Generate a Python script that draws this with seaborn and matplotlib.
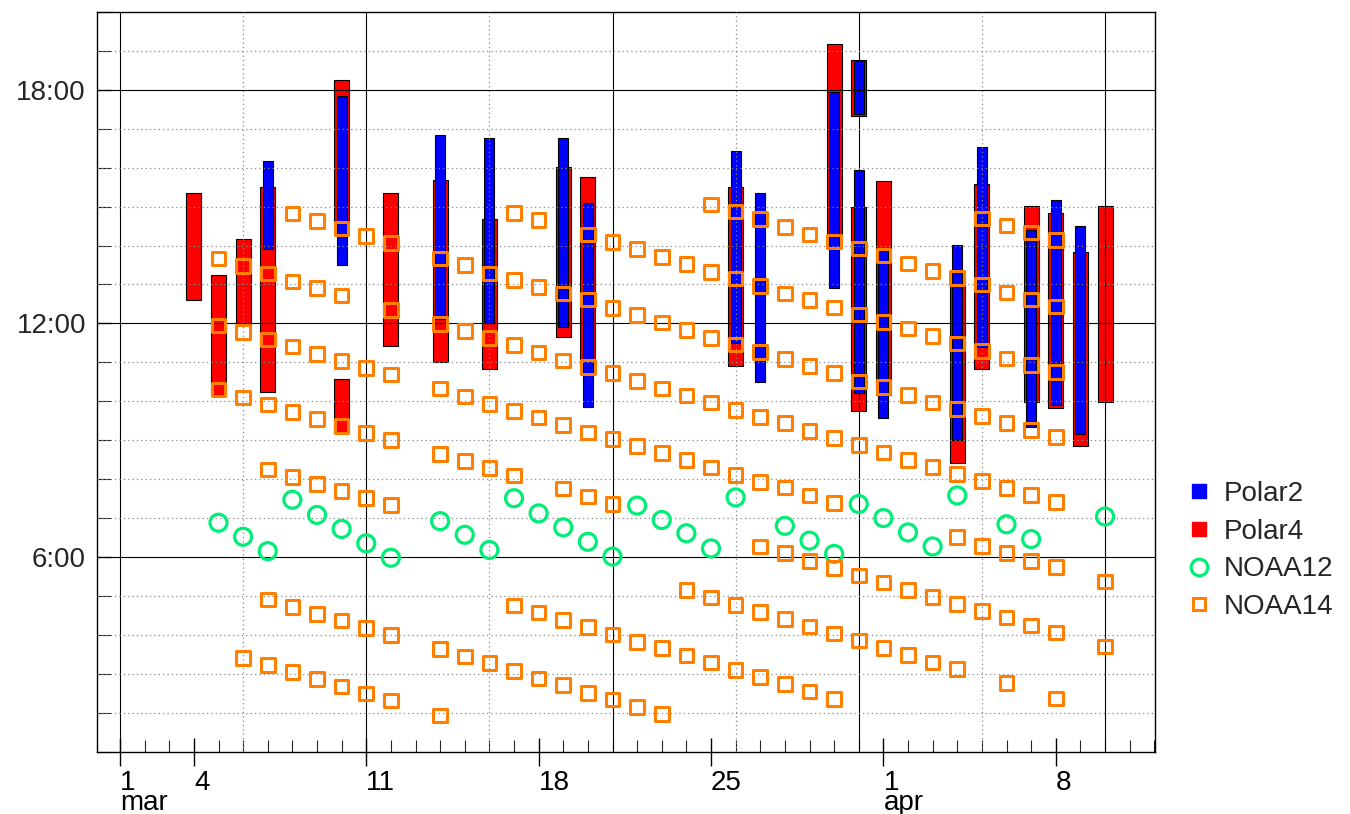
import numpy as np
import pandas as pd
import matplotlib
matplotlib.use("Agg")
import matplotlib.pyplot as plt
import seaborn as sns
from matplotlib.lines import Line2D

# ---------------- data (x = day counted from 1 March; Apr 1 = 32) ----------------
polar2_day = [7, 10, 14, 16, 19, 20, 26, 27, 30, 31, 31, 32, 35, 36, 38, 39, 40]
polar2_start = [13.92, 13.50, 12.11, 12.00, 11.92, 9.84, 11.50, 10.50, 12.90, 17.37,
                10.22, 9.58, 9.01, 11.40, 9.35, 9.91, 9.16]
polar2_end = [16.18, 17.84, 16.84, 16.76, 16.76, 15.09, 16.42, 15.34, 17.94, 18.74,
              15.93, 13.89, 14.02, 16.52, 14.39, 15.17, 14.50]

polar4_day = [4, 5, 6, 7, 10, 10, 12, 14, 16, 19, 20, 26, 30, 31, 31, 32, 35, 36, 38, 39, 40, 41]
polar4_start = [12.59, 10.14, 11.95, 10.25, 14.55, 9.18, 11.42, 11.00, 10.83, 11.66, 10.89,
                10.91, 14.23, 17.34, 9.75, 10.16, 8.41, 10.82, 9.99, 9.82, 8.84, 9.99]
polar4_end = [15.34, 13.25, 14.16, 15.51, 18.26, 10.58, 15.35, 15.69, 14.68, 16.01, 15.76,
              15.51, 19.18, 18.77, 15.00, 15.67, 13.33, 15.58, 15.01, 14.84, 13.84, 15.01]

noaa12_day = [5, 6, 7, 8, 9, 10, 11, 12, 14, 15, 16, 17, 18, 19, 20, 21, 22, 23, 24, 25,
              26, 28, 29, 30, 31, 32, 33, 34, 35, 37, 38, 41]
noaa12_hour = [6.88, 6.52, 6.15, 7.47, 7.08, 6.72, 6.35, 5.98, 6.92, 6.57, 6.18, 7.51,
               7.12, 6.76, 6.39, 6.01, 7.32, 6.95, 6.61, 6.22, 7.53, 6.80, 6.42, 6.08,
               7.36, 7.00, 6.63, 6.27, 7.58, 6.84, 6.46, 7.04]

noaa14_day = [5, 6, 7, 8, 9, 10, 11, 12, 14, 15, 16, 17, 18, 19, 20, 21, 22, 23, 24, 25,
              26, 27, 28, 29, 30, 31, 32, 33, 34, 35, 36, 37, 38, 39, 41]
noaa14_hours = [
    [13.67, 11.95, 10.30],
    [13.48, 11.78, 10.10, 3.41],
    [13.28, 11.59, 9.92, 8.25, 4.91, 3.23],
    [14.82, 13.08, 11.41, 9.73, 8.06, 4.72, 3.04],
    [14.63, 12.91, 11.22, 9.55, 7.88, 4.54, 2.86],
    [14.44, 12.72, 11.04, 9.37, 7.70, 4.37, 2.67],
    [14.25, 10.86, 9.19, 7.52, 4.17, 2.49],
    [14.07, 12.35, 10.69, 9.01, 7.34, 3.99, 2.31],
    [13.67, 11.98, 10.33, 8.65, 3.63, 1.93],
    [13.50, 11.80, 10.12, 8.47, 3.44],
    [13.28, 11.63, 9.93, 8.28, 3.27],
    [14.84, 13.11, 11.44, 9.75, 8.09, 4.75, 3.07],
    [14.65, 12.94, 11.25, 9.58, 4.57, 2.88],
    [12.77, 11.05, 9.39, 7.76, 4.38, 2.71],
    [14.28, 12.62, 10.88, 9.20, 7.55, 4.20, 2.51],
    [14.09, 12.40, 10.73, 9.03, 7.36, 4.01, 2.34],
    [13.91, 12.21, 10.52, 8.85, 3.82, 2.15],
    [13.71, 12.02, 10.33, 8.67, 3.66, 1.96],
    [13.52, 11.83, 10.15, 8.49, 5.15, 3.47],
    [15.05, 13.32, 11.63, 9.97, 8.30, 4.96, 3.29],
    [14.87, 13.15, 11.46, 9.78, 8.11, 4.77, 3.10],
    [14.68, 12.96, 11.27, 9.60, 7.93, 6.27, 4.58, 2.91],
    [14.48, 12.77, 11.08, 9.44, 7.78, 6.10, 4.41, 2.73],
    [14.28, 12.60, 10.90, 9.24, 7.58, 5.90, 4.21, 2.54],
    [14.11, 12.41, 10.73, 9.05, 7.38, 5.71, 4.04, 2.35],
    [13.92, 12.23, 10.51, 8.87, 5.52, 3.85],
    [13.74, 12.04, 10.36, 8.68, 5.34, 3.66],
    [13.54, 11.87, 10.16, 8.49, 5.15, 3.48],
    [13.34, 11.67, 9.97, 8.31, 4.97, 3.29],
    [13.17, 11.48, 9.80, 8.13, 6.51, 4.79, 3.12],
    [14.69, 13.00, 11.29, 9.62, 7.95, 6.28, 4.61],
    [14.51, 12.79, 11.10, 9.44, 7.77, 6.10, 4.44, 2.76],
    [14.33, 12.62, 10.93, 9.26, 7.59, 5.90, 4.24],
    [14.14, 12.44, 10.75, 9.08, 7.41, 5.74, 4.06, 2.37],
    [5.37, 3.70],
]

xtick_days = [1, 4, 11, 18, 25, 32, 39]
xtick_labels = ["1\nmar", "4", "11", "18", "25", "1\napr", "8"]
ytick_hours = [6, 12, 18]
ytick_labels = ["6:00", "12:00", "18:00"]
series_names = ["Polar2", "Polar4", "NOAA12", "NOAA14"]

# ---------------- style ----------------
sns.set_theme(style="ticks")
plt.rcParams['font.family'] = ['Liberation Sans', 'DejaVu Sans']
plt.rcParams['axes.linewidth'] = 1.0

C_BLUE = "#0000ff"
C_RED = "#ff0000"
C_GREEN = "#00ee77"
C_ORANGE = "#ff8000"

fig = plt.figure(figsize=(13.5, 8.14), dpi=100)
ax = fig.add_axes([97 / 1350, 1 - 752 / 814, (1155 - 97) / 1350, (752 - 12) / 814])

# bars (floating)
p4_h = np.array(polar4_end) - np.array(polar4_start)
p2_h = np.array(polar2_end) - np.array(polar2_start)
ax.bar(polar4_day, p4_h, bottom=polar4_start, width=0.61, color=C_RED,
       edgecolor="black", linewidth=0.8, zorder=2)
ax.bar(polar2_day, p2_h, bottom=polar2_start, width=0.41, color=C_BLUE,
       edgecolor="black", linewidth=0.8, zorder=3)

# grid lines
for d in [1, 11, 21, 31, 41]:
    ax.axvline(d, color="black", lw=0.8, zorder=4)
for d in [6, 16, 26, 36]:
    ax.axvline(d, color="#888888", lw=0.9, ls=(0, (1, 2.5)), zorder=4)
for h in range(2, 20):
    if h in ytick_hours:
        ax.axhline(h, color="black", lw=0.8, zorder=4)
    else:
        ax.axhline(h, color="#888888", lw=0.9, ls=(0, (1, 2.5)), zorder=4)

# scatter series
df12 = pd.DataFrame({"day": noaa12_day, "hour": noaa12_hour})
flat_d, flat_h = [], []
for d, hs in zip(noaa14_day, noaa14_hours):
    for h in hs:
        flat_d.append(d)
        flat_h.append(h)
df14 = pd.DataFrame({"day": flat_d, "hour": flat_h})

sns.scatterplot(data=df12, x="day", y="hour", marker="o", s=150,
                facecolor="none", edgecolor=C_GREEN, linewidth=2.3,
                ax=ax, zorder=5, legend=False)
sns.scatterplot(data=df14, x="day", y="hour", marker="s", s=95,
                facecolor="none", edgecolor=C_ORANGE, linewidth=2.2,
                ax=ax, zorder=6, legend=False)

# axes
ax.set_xlim(0.066, 43.03)
ax.set_ylim(0.99, 20.0)
ax.set_xlabel("")
ax.set_ylabel("")
ax.set_xticks(xtick_days)
ax.set_xticklabels(xtick_labels, ha="left", linespacing=0.72)
ax.set_xticks(np.arange(1, 44), minor=True)
ax.set_yticks(ytick_hours)
ax.set_yticklabels(ytick_labels)
ax.set_yticks(np.arange(1, 21), minor=True)
ax.tick_params(axis="x", which="major", direction="inout", length=20, width=1,
               pad=3, labelsize=20, colors="black")
ax.tick_params(axis="x", which="minor", direction="in", length=9, width=0.8)
ax.tick_params(axis="y", which="major", direction="in", length=10, width=1,
               pad=8, labelsize=20)
ax.tick_params(axis="y", which="minor", direction="in", length=10, width=0.8)
ax.tick_params(top=False, right=False, which="both")
for sp in ax.spines.values():
    sp.set_color("black")
    sp.set_linewidth(1.0)

# legend
handles = [
    Line2D([], [], ls="", marker="s", markersize=9.5, mfc=C_BLUE, mec=C_BLUE),
    Line2D([], [], ls="", marker="s", markersize=9.5, mfc=C_RED, mec=C_RED),
    Line2D([], [], ls="", marker="o", markersize=12, mfc="none", mec=C_GREEN, mew=2.3),
    Line2D([], [], ls="", marker="s", markersize=9, mfc="none", mec=C_ORANGE, mew=2.2),
]
fig.legend(handles, series_names, loc="upper left", bbox_to_anchor=(1185 / 1350, 1 - 481 / 814),
           frameon=False, fontsize=20, handlelength=1.0, handletextpad=0.4,
           borderpad=0, borderaxespad=0, labelspacing=0.42)

fig.savefig("out.png", dpi=100)
